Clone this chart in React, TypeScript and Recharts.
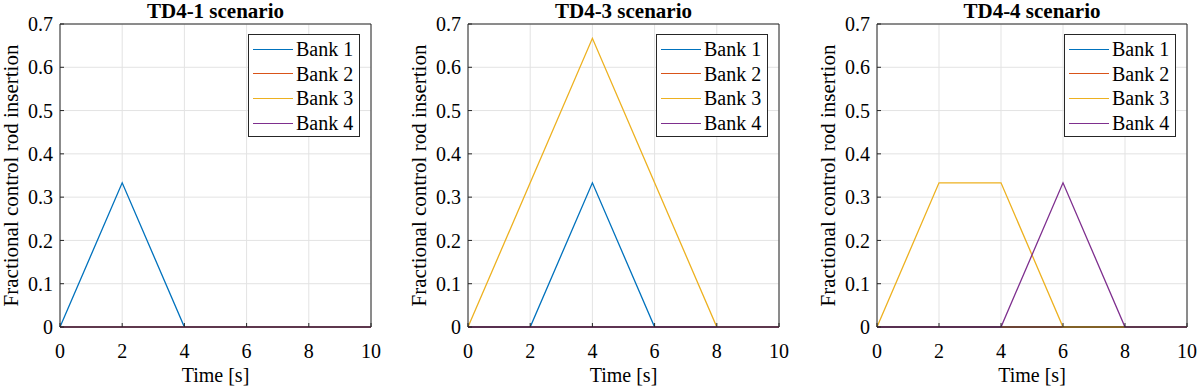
import { LineChart, Line, XAxis, YAxis, CartesianGrid, Legend, ReferenceLine } from 'recharts';

const time = [0, 2, 4, 6, 8, 10];
const xTicks = [0, 2, 4, 6, 8, 10];
const yTicks = [0, 0.1, 0.2, 0.3, 0.4, 0.5, 0.6, 0.7];

const bankNames = ['Bank 1', 'Bank 2', 'Bank 3', 'Bank 4'];
const bankColors = ['#0072BD', '#D95319', '#EDB120', '#7E2F8E'];

// TD4-1
const td41Bank1 = [0, 0.333, 0, 0, 0, 0];
const td41Bank2 = [0, 0, 0, 0, 0, 0];
const td41Bank3 = [0, 0, 0, 0, 0, 0];
const td41Bank4 = [0, 0, 0, 0, 0, 0];

// TD4-3
const td43Bank1 = [0, 0, 0.333, 0, 0, 0];
const td43Bank2 = [0, 0, 0, 0, 0, 0];
const td43Bank3 = [0, 0.333, 0.667, 0.333, 0, 0];
const td43Bank4 = [0, 0, 0, 0, 0, 0];

// TD4-4
const td44Bank1 = [0, 0, 0, 0, 0, 0];
const td44Bank2 = [0, 0, 0, 0, 0, 0];
const td44Bank3 = [0, 0.333, 0.333, 0, 0, 0];
const td44Bank4 = [0, 0, 0, 0.333, 0, 0];

const FONT = 'Liberation Serif';
const FS = 20;
const AXIS = '#262626';

const buildData = (banks: number[][]) =>
  time.map((t, i) => ({ t, b1: banks[0][i], b2: banks[1][i], b3: banks[2][i], b4: banks[3][i] }));

const LegendBox = () => (
  <div
    style={{
      width: 110,
      height: 99,
      border: `1px solid ${AXIS}`,
      background: '#fff',
      fontSize: 20,
      color: '#000',
      paddingTop: 2,
      boxSizing: 'content-box',
    }}
  >
    {bankNames.map((name, i) => (
      <div key={name} style={{ display: 'flex', alignItems: 'center', height: 24.6 }}>
        <div style={{ width: 40, height: 0, borderTop: `1.5px solid ${bankColors[i]}`, marginLeft: 4, marginRight: 3 }} />
        <span style={{ lineHeight: '24px' }}>{name}</span>
      </div>
    ))}
  </div>
);

const Panel = ({ title, banks, left, right }: { title: string; banks: number[][]; left: number; right: number }) => {
  const data = buildData(banks);
  const tickStyle = { fontSize: FS, fill: '#000' };
  const plotLeft = left + 50;
  const plotRight = 400 - right;
  return (
    <div style={{ position: 'relative', width: 400, height: 391 }}>
      <div
        style={{
          position: 'absolute',
          left: plotLeft - 40,
          width: plotRight - plotLeft + 80,
          top: 1,
          textAlign: 'center',
          fontSize: 21,
          fontWeight: 'bold',
          lineHeight: '21px',
          color: '#000',
        }}
      >
        {title}
      </div>
      <LineChart width={400} height={391} data={data} margin={{ top: 24, right, bottom: 0, left }}>
        <CartesianGrid stroke="#e3e3e3" strokeWidth={1} />
        <XAxis
          dataKey="t"
          type="number"
          domain={[0, 10]}
          ticks={xTicks}
          height={64}
          stroke={AXIS}
          tickLine={{ stroke: AXIS }}
          tickSize={-4}
          tickMargin={21}
          tick={tickStyle}
          interval={0}
          label={{ value: 'Time [s]', position: 'insideBottom', offset: 9, style: { fontSize: FS, fill: '#000' } }}
        />
        <YAxis
          type="number"
          domain={[0, 0.7]}
          ticks={yTicks}
          width={50}
          stroke={AXIS}
          tickLine={{ stroke: AXIS }}
          tickSize={-4}
          tickMargin={11}
          tick={tickStyle}
          interval={0}
          tickFormatter={(v: number) => (v === 0 ? '0' : v.toFixed(1))}
          label={{
            value: 'Fractional control rod insertion',
            angle: -90,
            position: 'insideLeft',
            offset: 1,
            style: { textAnchor: 'middle', fontSize: 21, fill: '#000' },
          }}
        />
        <ReferenceLine x={10} stroke={AXIS} strokeWidth={1} ifOverflow="extendDomain" />
        <ReferenceLine y={0.7} stroke={AXIS} strokeWidth={1} ifOverflow="extendDomain" />
        <Legend
          layout="horizontal"
          verticalAlign="middle"
          align="center"
          content={<LegendBox />}
          wrapperStyle={{ position: 'absolute', left: plotRight - 11 - 112, top: 34, width: 112, height: 102 }}
        />
        {banks.map((_, i) => (
          <Line
            key={i}
            type="linear"
            dataKey={`b${i + 1}`}
            name={bankNames[i]}
            stroke={bankColors[i]}
            strokeWidth={1.3}
            dot={false}
            activeDot={false}
            isAnimationActive={false}
          />
        ))}
      </LineChart>
    </div>
  );
};

const App = () => (
  <div style={{ position: 'absolute', left: 0, top: 0, width: 1200, height: 391, background: '#fff', fontFamily: FONT }}>
    <div style={{ position: 'absolute', left: 0, top: 0 }}>
      <Panel title="TD4-1 scenario" banks={[td41Bank1, td41Bank2, td41Bank3, td41Bank4]} left={10} right={29} />
    </div>
    <div style={{ position: 'absolute', left: 400, top: 0 }}>
      <Panel title="TD4-3 scenario" banks={[td43Bank1, td43Bank2, td43Bank3, td43Bank4]} left={18} right={21} />
    </div>
    <div style={{ position: 'absolute', left: 800, top: 0 }}>
      <Panel title="TD4-4 scenario" banks={[td44Bank1, td44Bank2, td44Bank3, td44Bank4]} left={27} right={13} />
    </div>
  </div>
);

export default App;
